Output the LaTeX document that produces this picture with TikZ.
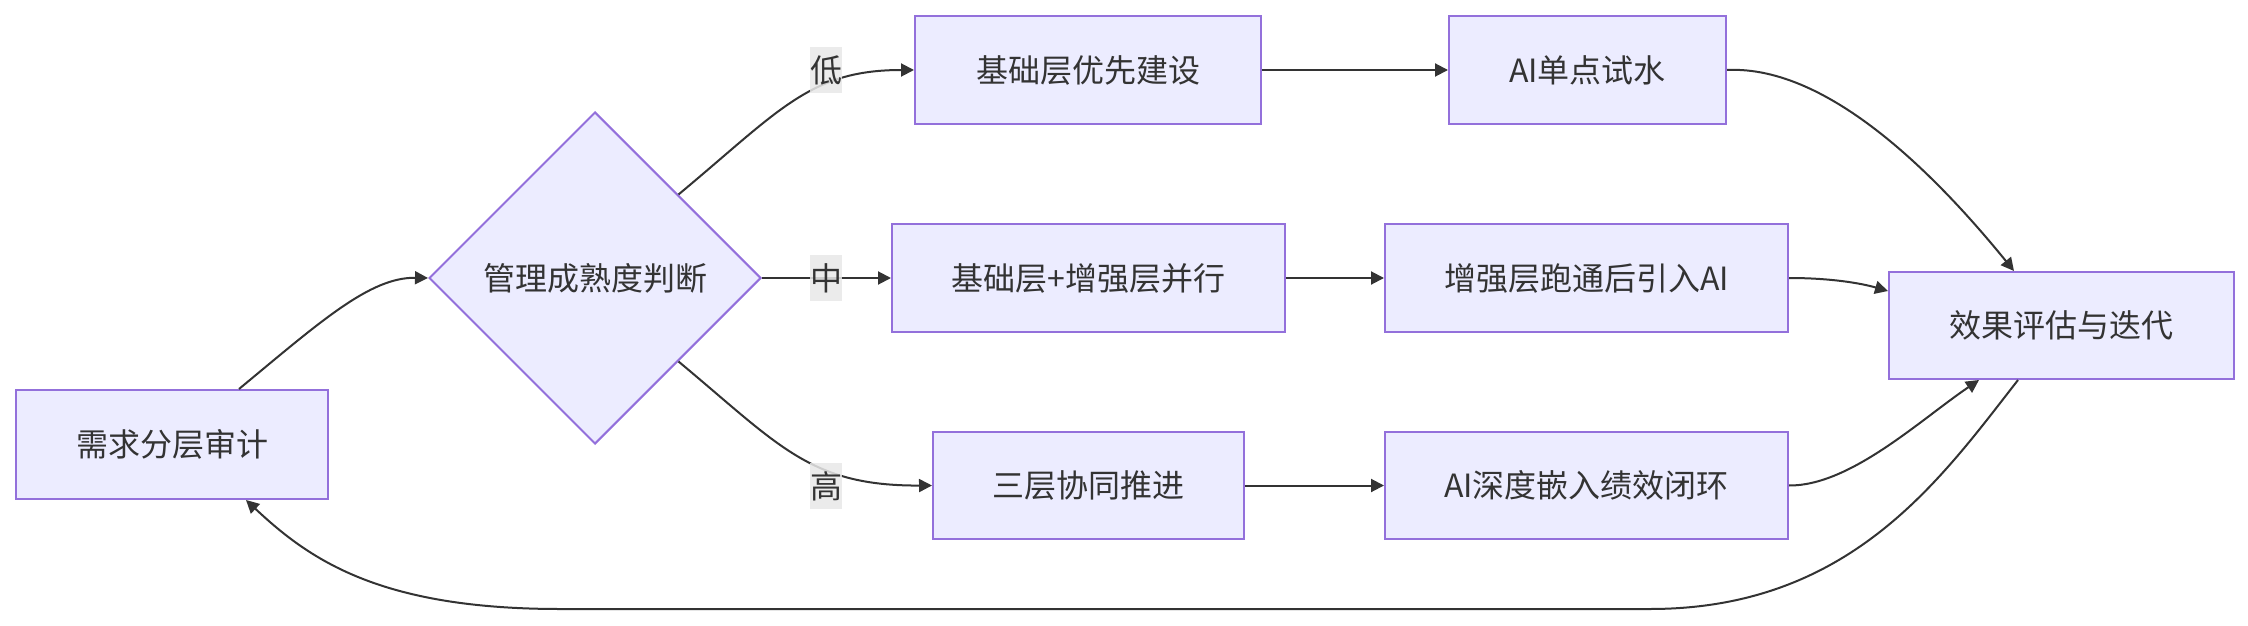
\documentclass[tikz,border=0pt]{standalone}
\usepackage{fontspec}
\setmainfont{Noto Sans CJK SC}
\usetikzlibrary{shapes.geometric, arrows.meta}

\definecolor{boxfill}{HTML}{ECECFF}
\definecolor{boxline}{HTML}{9370DB}
\definecolor{inkgray}{HTML}{333333}
\definecolor{tagfill}{HTML}{E8E8E8}

\begin{document}
\begin{tikzpicture}[
    x=0.5pt, y=-0.5pt,
    box/.style={
        rectangle,
        draw=boxline,
        fill=boxfill,
        line width=1pt,
        align=center,
        text=inkgray,
        font=\fontsize{16pt}{19pt}\selectfont
    },
    decision/.style={
        diamond,
        aspect=1,
        draw=boxline,
        fill=boxfill,
        line width=1pt,
        minimum size=166pt,
        inner sep=0pt,
        text=inkgray,
        font=\fontsize{16pt}{19pt}\selectfont
    },
    tag/.style={
        fill=tagfill,
        fill opacity=0.85,
        text opacity=1,
        text=inkgray,
        inner xsep=0pt,
        inner ysep=4pt,
        font=\fontsize{16pt}{19pt}\selectfont
    },
    line/.style={
        draw,
        -{Triangle[length=6.5pt,width=6.5pt]},
        line width=1pt,
        color=inkgray
    }
]
\useasboundingbox (0,0) rectangle (2248,626);

% Nodes
\node [box, minimum width=156pt, minimum height=54.5pt] (audit) at (172,444.5) {需求分层审计};
\node [decision] (judge) at (595,278) {管理成熟度判断};

% Three branches
\node [box, minimum width=173pt, minimum height=54pt] (base) at (1088,70) {基础层优先建设};
\node [box, minimum width=138.5pt, minimum height=54pt] (pilot) at (1587.5,70) {AI单点试水};
\node [box, minimum width=196.5pt, minimum height=54pt] (parallel) at (1088.5,278) {基础层+增强层并行};
\node [box, minimum width=201.5pt, minimum height=54pt] (enhance) at (1586.5,278) {增强层跑通后引入AI};
\node [box, minimum width=155.5pt, minimum height=53.5pt] (tri) at (1088.5,485.5) {三层协同推进};
\node [box, minimum width=201.5pt, minimum height=53.5pt] (deep) at (1586.5,485.5) {AI深度嵌入绩效闭环};

\node [box, minimum width=172.5pt, minimum height=53.5pt] (eval) at (2061.5,325.5) {效果评估与迭代};

% Connections
\path [line] ([xshift=33.5pt]audit.north) .. controls (320,322) and (370,277) .. (judge.west);

\path [line] (judge.north east) .. controls (780,110) and (810,70) .. (base.west);
\path [line] (judge.east) -- (parallel.west);
\path [line] (judge.south east) .. controls (780,446) and (810,486) .. (tri.west);

\path [line] (base) -- (pilot);
\path [line] (parallel) -- (enhance);
\path [line] (tri) -- (deep);

% Merge into evaluation
\path [line] (pilot.east) .. controls (1830,65) and (1940,180) .. ([xshift=-23.75pt]eval.north);
\path [line] (enhance.east) .. controls (1830,278) and (1860,283) .. ([yshift=17.25pt]eval.west);
\path [line] (deep.east) .. controls (1850,486) and (1920,420) .. ([xshift=-41.25pt]eval.south);

% Feedback loop
\path [line] ([xshift=-21.75pt]eval.south) .. controls (1940,480) and (1850,609) .. (1650,609)
    -- (560,609) .. controls (380,609) and (310,560) .. ([xshift=37pt]audit.south);

% Branch labels
\node [tag] (low) at (826,70) {低};
\node [tag] (mid) at (826,278) {中};
\node [tag] (high) at (826,486) {高};

\end{tikzpicture}
\end{document}
